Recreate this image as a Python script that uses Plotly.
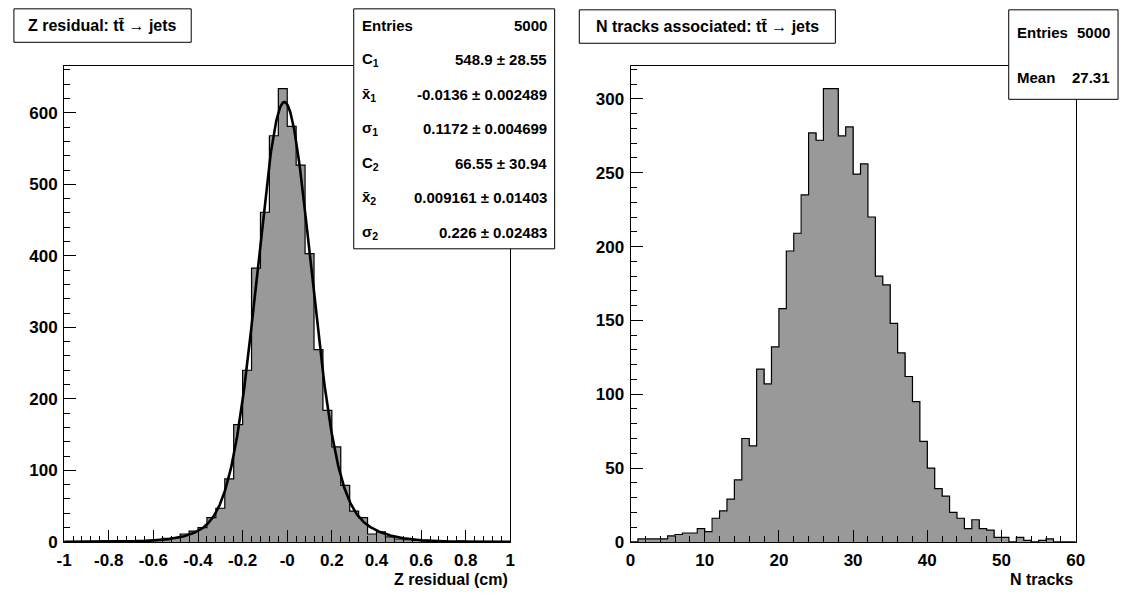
import numpy as np
import plotly.graph_objects as go

# ---------------- data ----------------
# Z residual histogram: 50 bins on [-1, 1]
z_lo, z_hi, z_nbins = -1.0, 1.0, 50
z_counts = [0, 0, 0, 0, 1, 0, 1, 1, 2, 2, 3, 5,
            6, 11, 15, 20, 34, 47, 88, 164, 240, 383, 461, 568,
            634, 581, 527, 403, 269, 184, 133, 79, 43, 34, 11, 14,
            7, 4, 3, 2, 2, 1, 1, 0, 1, 0, 0, 0, 0, 0]

# double-gaussian fit parameters (constant, mean, sigma)
fit_c1, fit_m1, fit_s1 = 548.9, -0.0136, 0.1172
fit_c2, fit_m2, fit_s2 = 66.55, 0.009161, 0.226

# N tracks histogram: 60 bins on [0, 60]
n_lo, n_hi, n_nbins = 0.0, 60.0, 60
n_counts = [0, 2, 2, 2, 2, 4, 5, 6, 6, 9, 7, 16, 21, 29, 42, 70, 65, 117, 107, 132,
            158, 197, 209, 235, 277, 272, 307, 307, 275, 281, 249, 256, 220, 180, 174,
            148, 128, 112, 95, 68, 50, 36, 31, 20, 16, 9, 15, 9, 8, 3, 3, 0, 3, 1, 0,
            1, 2, 0, 0, 0]

z_ticks = [-1, -0.8, -0.6, -0.4, -0.2, 0, 0.2, 0.4, 0.6, 0.8, 1]
z_ticktext = ["-1", "-0.8", "-0.6", "-0.4", "-0.2", "-0", "0.2", "0.4", "0.6", "0.8", "1"]

left_title = "Z residual: tt\u0304 \u2192 jets"
right_title = "N tracks associated: tt\u0304 \u2192 jets"
left_xtitle = "Z residual (cm)"
right_xtitle = "N tracks"

left_stats = [
    ("Entries", "5000"),
    ("C<sub>1</sub>", "548.9 \u00b1 28.55"),
    ("x\u0304<sub>1</sub>", "-0.0136 \u00b1 0.002489"),
    ("\u03c3<sub>1</sub>", "0.1172 \u00b1 0.004699"),
    ("C<sub>2</sub>", "66.55 \u00b1 30.94"),
    ("x\u0304<sub>2</sub>", "0.009161 \u00b1 0.01403"),
    ("\u03c3<sub>2</sub>", "0.226 \u00b1 0.02483"),
]
right_stats = [("Entries", "5000"), ("Mean", "27.31")]

# ---------------- layout helpers ----------------
W, H = 1131, 604
FONT = "Liberation Sans"
FILL = "#999999"


def px(x):
    return x / W


def py(y):
    return 1 - y / H


fig = go.Figure()


def add_hist(counts, lo, hi, nb, xa, ya):
    edges = np.linspace(lo, hi, nb + 1)
    bw = (hi - lo) / nb
    fig.add_trace(go.Bar(x=edges[:-1], y=counts, width=bw, offset=0,
                         marker=dict(color=FILL, line=dict(width=0)),
                         xaxis=xa, yaxis=ya, showlegend=False, hoverinfo="skip"))
    ys = list(counts) + [counts[-1]]
    fig.add_trace(go.Scatter(x=edges, y=ys, mode="lines", line_shape="hv",
                             line=dict(color="black", width=1.2),
                             xaxis=xa, yaxis=ya, showlegend=False, hoverinfo="skip"))


add_hist(z_counts, z_lo, z_hi, z_nbins, "x", "y")
add_hist(n_counts, n_lo, n_hi, n_nbins, "x2", "y2")

# fit curve
xf = np.linspace(z_lo, z_hi, 801)
yf = (fit_c1 * np.exp(-0.5 * ((xf - fit_m1) / fit_s1) ** 2)
      + fit_c2 * np.exp(-0.5 * ((xf - fit_m2) / fit_s2) ** 2))
fig.add_trace(go.Scatter(x=xf, y=yf, mode="lines", line=dict(color="black", width=2.6),
                         xaxis="x", yaxis="y", showlegend=False, hoverinfo="skip"))

tickfont = dict(family=FONT, size=17, color="black", weight="bold")
axis_common = dict(showline=True, linecolor="black", linewidth=1, mirror=True,
                   ticks="inside", ticklen=12, tickwidth=1, tickcolor="black",
                   showgrid=False, zeroline=False, tickfont=tickfont)

y_top, y_bot = 67, 551
fig.update_layout(
    width=W, height=H, margin=dict(l=0, r=0, t=0, b=0),
    paper_bgcolor="white", plot_bgcolor="white", bargap=0, barmode="overlay",
    xaxis=dict(domain=[px(57), px(510)], range=[z_lo, z_hi], tickvals=z_ticks,
               ticktext=z_ticktext, ticklabelstandoff=3,
               minor=dict(ticks="inside", ticklen=6, tick0=-1, dtick=0.04, tickcolor="black"),
               anchor="y", **axis_common),
    yaxis=dict(domain=[py(y_bot), py(y_top)], range=[0, 1.05 * max(z_counts)],
               tick0=0, dtick=100, ticklabelstandoff=2,
               minor=dict(ticks="inside", ticklen=6, tick0=0, dtick=20, tickcolor="black"),
               anchor="x", **axis_common),
    xaxis2=dict(domain=[px(632), px(1084)], range=[n_lo, n_hi], tick0=0, dtick=10,
                ticklabelstandoff=3,
                minor=dict(ticks="inside", ticklen=6, tick0=0, dtick=2, tickcolor="black"),
                anchor="y2", **axis_common),
    yaxis2=dict(domain=[py(y_bot), py(y_top)], range=[0, 1.05 * max(n_counts)],
                tick0=0, dtick=50, ticklabelstandoff=2,
                minor=dict(ticks="inside", ticklen=6, tick0=0, dtick=10, tickcolor="black"),
                anchor="x2", **axis_common),
)

shapes = []
annots = []


def box(x0, y0, x1, y1):
    shapes.append(dict(type="rect", xref="paper", yref="paper",
                       x0=px(x0), x1=px(x1), y0=py(y1), y1=py(y0),
                       fillcolor="white", line=dict(color="black", width=1),
                       layer="above"))


def text(x, y, s, anchor, size=15, vanchor="middle"):
    annots.append(dict(xref="paper", yref="paper", x=px(x), y=py(y), text=s,
                       showarrow=False, xanchor=anchor, yanchor=vanchor,
                       font=dict(family=FONT, size=size, color="black", weight="bold")))


# titles
box(6, 9, 186, 43)
text(96, 26, left_title, "center", 16)
box(580, 10, 840, 44)
text(710, 27, right_title, "center", 16)

# stat boxes
box(351, 9, 555, 253)
row_y = [26, 61, 96, 131, 166, 201, 236]
for (lab, val), yy in zip(left_stats, row_y):
    text(357, yy, lab, "left")
    text(549, yy, val, "right")

box(1016, 10, 1127, 101)
for (lab, val), yy in zip(right_stats, [33, 79]):
    text(1022, yy, lab, "left")
    text(1121, yy, val, "right")

# axis titles, hung below the tick labels
text(510, 579, left_xtitle, "right", 16, "top")
text(1083, 579, right_xtitle, "right", 16, "top")

fig.update_layout(shapes=shapes, annotations=annots)
fig.write_html("out.html")
